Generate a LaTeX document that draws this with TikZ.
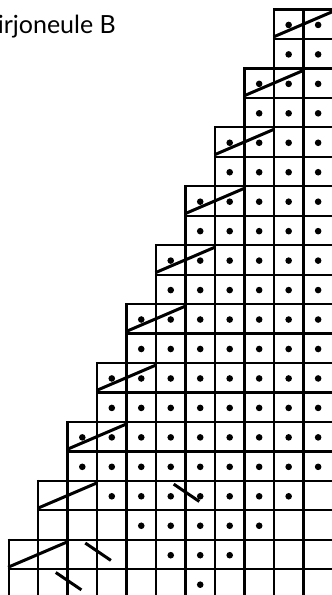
\documentclass[tikz,border=0pt]{standalone}
\usepackage{fontspec}
\setmainfont{Lato}
\begin{document}
\begin{tikzpicture}[x=1pt,y=-1pt,
  gridline/.style={line width=2.2pt,black},
  strand/.style={line width=3pt,black},
  stitchdot/.style={fill=black},
  title/.style={inner sep=0pt,anchor=base east,font=\fontsize{25}{28}\selectfont}]
\useasboundingbox (0,0) rectangle (332,595);
\clip (0,0) rectangle (332,595);
\def\xo{8.6}\def\cw{29.48}\def\yo{9.5}\def\ch{29.46}
% horizontal grid lines
\foreach \r in {0,...,19}{
  \pgfmathtruncatemacro\s{9-floor(\r/2)}
  \draw[gridline] ({\xo+\cw*\s-1.1},{\yo+\ch*\r}) -- (340,{\yo+\ch*\r});
}
% vertical grid lines
\foreach \c in {0,...,10}{
  \pgfmathtruncatemacro\t{max(0,2*(9-\c))}
  \draw[gridline] ({\xo+\cw*\c},{\yo+\ch*\t-1.1}) -- ({\xo+\cw*\c},600);
}
% dots, rows 0..15 full
\foreach \r in {0,...,15}{
  \pgfmathtruncatemacro\s{9-floor(\r/2)}
  \foreach \c in {\s,...,10}{
    \fill[stitchdot] ({\xo+\cw*(\c+0.5)},{\yo+\ch*(\r+0.5)+0.7}) circle (3.3);
  }
}
\foreach \r/\a/\b in {16/3/9,17/4/8,18/5/7,19/6/6}{
  \foreach \c in {\a,...,\b}{
    \fill[stitchdot] ({\xo+\cw*(\c+0.5)},{\yo+\ch*(\r+0.5)+0.7}) circle (3.3);
  }
}
% rising strands
\foreach \k in {0,...,9}{
  \pgfmathtruncatemacro\r{2*\k}
  \pgfmathtruncatemacro\c{9-\k}
  \draw[strand] ({\xo+\cw*\c-0.5},{\yo+\ch*(\r+1)-2}) -- ({\xo+\cw*(\c+2)},{\yo+\ch*\r+2});
}
% falling strands
\foreach \c/\r in {5/16,2/18,1/19}{
  \draw[strand] ({\xo+\cw*(\c+0.6)},{\yo+\ch*(\r+0.11)}) -- ({\xo+\cw*(\c+1.47)},{\yo+\ch*(\r+0.7)});
}
\node[title] (title) at (116,33.5) {Kirjoneule B};
\end{tikzpicture}
\end{document}
